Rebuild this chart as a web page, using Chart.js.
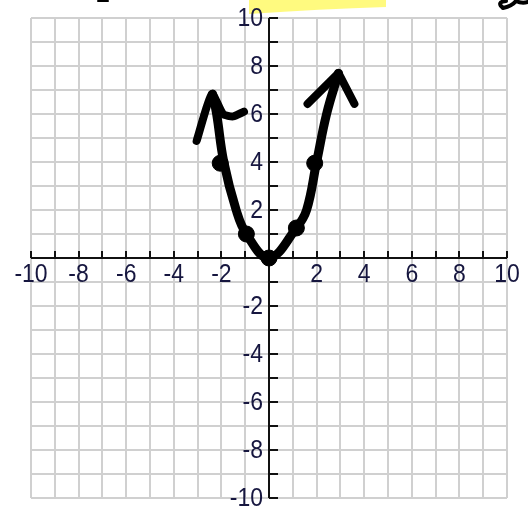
<!DOCTYPE html>
<html>
<head>
<meta charset="utf-8">
<script src="https://cdn.jsdelivr.net/npm/chart.js@4.4.1/dist/chart.umd.min.js"></script>
<style>
  html, body { margin: 0; padding: 0; background: #ffffff; }
  #wrap { width: 528px; height: 512px; position: relative; }
</style>
</head>
<body>
<div id="wrap"><canvas id="c" width="528" height="512"></canvas></div>
<script>
// ---- data ----
const xTickValues = [-10, -8, -6, -4, -2, 2, 4, 6, 8, 10];
const xTickLabels = ['-10', '-8', '-6', '-4', '-2', '2', '4', '6', '8', '10'];
const yTickValues = [10, 8, 6, 4, 2, -2, -4, -6, -8, -10];
const yTickLabels = ['10', '8', '6', '4', '2', '-2', '-4', '-6', '-8', '-10'];

// hand-drawn parabola path
const curveX = [-2.37, -2.2, -1.9, -1.38, -0.95, 0, 1.15, 1.58, 2.0, 2.42, 2.92];
const curveY = [6.83, 6.0, 4.0, 2.0, 1.0, 0, 1.25, 2.0, 4.0, 6.0, 7.7];

// plotted points
const pointX = [-2.05, -0.95, 0, 1.15, 1.92];
const pointY = [3.95, 1.0, 0, 1.25, 3.95];

// arrowheads (arm, tip, arm)
const leftArrowX = [-3.04, -2.4, -1.93, -1.5, -1.05];
const leftArrowY = [4.88, 6.83, 6.0, 5.9, 6.1];
const rightArrowX = [1.62, 2.92, 3.59];
const rightArrowY = [6.42, 7.7, 6.42];

const zip = (xs, ys) => xs.map((x, i) => ({ x: x, y: ys[i] }));

const LABEL_COLOR = '#16163f';
const FONT = '23px "Liberation Sans", Arial, sans-serif';

const decorPlugin = {
  id: 'decor',
  beforeDraw(chart) {
    const ctx = chart.ctx;
    ctx.save();
    // yellow highlighter at top
    ctx.fillStyle = 'rgba(255, 250, 120, 0.95)';
    ctx.beginPath();
    ctx.moveTo(249, 0);
    ctx.lineTo(386, 0);
    ctx.lineTo(386, 7);
    ctx.quadraticCurveTo(320, 9, 249, 14);
    ctx.closePath();
    ctx.fill();
    // handwriting fragments at top edge
    ctx.strokeStyle = '#000';
    ctx.lineCap = 'round';
    ctx.lineWidth = 4;
    ctx.beginPath();
    ctx.moveTo(503, 8);
    ctx.quadraticCurveTo(496, 2, 506, 1);
    ctx.moveTo(503, 8);
    ctx.quadraticCurveTo(512, 6, 516, 1);
    ctx.quadraticCurveTo(522, 4, 528, 2);
    ctx.stroke();
    ctx.lineWidth = 2;
    ctx.beginPath();
    ctx.moveTo(98, 1);
    ctx.lineTo(108, 1);
    ctx.stroke();
    ctx.restore();
  },
  beforeDatasetsDraw(chart) {
    const ctx = chart.ctx;
    const xs = chart.scales.x, ys = chart.scales.y;
    const x0 = Math.round(xs.getPixelForValue(0));
    const y0 = Math.round(ys.getPixelForValue(0));
    ctx.save();
    ctx.strokeStyle = '#111';
    ctx.lineWidth = 2;
    ctx.beginPath();
    // x axis
    ctx.moveTo(xs.getPixelForValue(-10), y0);
    ctx.lineTo(xs.getPixelForValue(10), y0);
    // y axis
    ctx.moveTo(x0, ys.getPixelForValue(10));
    ctx.lineTo(x0, ys.getPixelForValue(-10));
    // ticks
    for (let v = -10; v <= 10; v++) {
      const px = Math.round(xs.getPixelForValue(v));
      ctx.moveTo(px, y0);
      ctx.lineTo(px, y0 - 7);
      const py = Math.round(ys.getPixelForValue(v));
      ctx.moveTo(x0, py);
      ctx.lineTo(x0 + 9, py);
    }
    ctx.stroke();

    ctx.fillStyle = LABEL_COLOR;
    ctx.font = FONT;
    ctx.textBaseline = 'middle';
    const sy = 1.12;
    const drawLabel = (txt, x, y, align) => {
      ctx.save();
      ctx.textAlign = align;
      ctx.translate(x, y);
      ctx.scale(1, sy);
      ctx.fillText(txt, 0, 0);
      ctx.restore();
    };
    xTickValues.forEach((v, i) => {
      drawLabel(xTickLabels[i], xs.getPixelForValue(v), y0 + 17, 'center');
    });
    yTickValues.forEach((v, i) => {
      drawLabel(yTickLabels[i], x0 - 6, ys.getPixelForValue(v) + 1, 'right');
    });
    ctx.restore();
  }
};

new Chart(document.getElementById('c'), {
  type: 'scatter',
  data: {
    datasets: [
      {
        label: 'curve',
        data: zip(curveX, curveY),
        showLine: true,
        borderColor: '#000',
        borderWidth: 9,
        tension: 0.4,
        pointRadius: 0,
        borderCapStyle: 'round',
        borderJoinStyle: 'round'
      },
      {
        label: 'left arrow',
        data: zip(leftArrowX, leftArrowY),
        showLine: true,
        borderColor: '#000',
        borderWidth: 8,
        tension: 0.2,
        pointRadius: 0,
        borderCapStyle: 'round',
        borderJoinStyle: 'round'
      },
      {
        label: 'right arrow',
        data: zip(rightArrowX, rightArrowY),
        showLine: true,
        borderColor: '#000',
        borderWidth: 8,
        tension: 0,
        pointRadius: 0,
        borderCapStyle: 'round',
        borderJoinStyle: 'round'
      },
      {
        label: 'points',
        data: zip(pointX, pointY),
        showLine: false,
        backgroundColor: '#000',
        borderColor: '#000',
        pointRadius: 8,
        pointHoverRadius: 8
      }
    ]
  },
  options: {
    responsive: false,
    animation: false,
    events: [],
    layout: { padding: { left: 31, right: 21, top: 18, bottom: 14 } },
    plugins: { legend: { display: false }, tooltip: { enabled: false } },
    scales: {
      x: {
        type: 'linear',
        position: { y: 0 },
        min: -10, max: 10,
        ticks: { display: false, stepSize: 1 },
        grid: { color: '#d0d0d0', lineWidth: 2, drawTicks: false },
        border: { display: false }
      },
      y: {
        type: 'linear',
        position: { x: 0 },
        min: -10, max: 10,
        ticks: { display: false, stepSize: 1 },
        grid: { color: '#d0d0d0', lineWidth: 2, drawTicks: false },
        border: { display: false }
      }
    }
  },
  plugins: [decorPlugin]
});
</script>
</body>
</html>
